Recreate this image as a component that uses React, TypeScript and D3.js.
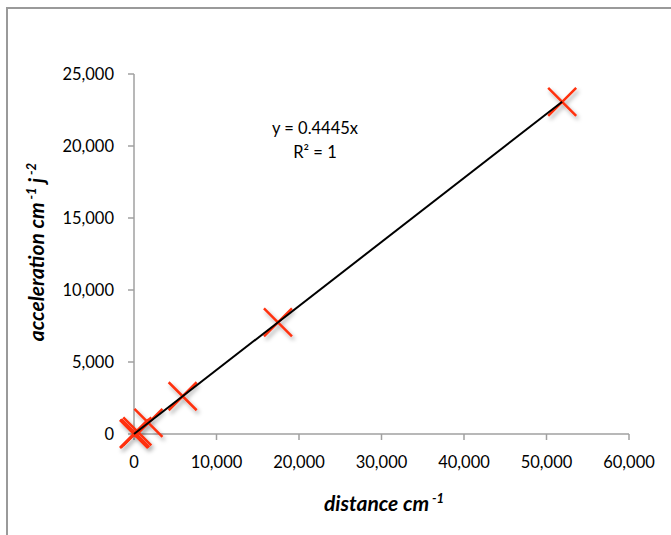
import React from "react";
import * as d3 from "d3";

const distances = [0, 40, 150, 400, 1750, 5900, 17450, 51900];
const accelerations = [0, 18, 67, 178, 778, 2622, 7757, 23070];
const xTicks = [0, 10000, 20000, 30000, 40000, 50000, 60000];
const yTicks = [0, 5000, 10000, 15000, 20000, 25000];
const slope = 0.4445;
const equationLines = ["y = 0.4445x", "R² = 1"];

const W = 671;
const H = 535;
const FONT = "Lato, 'Open Sans', sans-serif";

export default function App() {
  const x = d3.scaleLinear().domain([0, 60000]).range([134, 629]);
  const y = d3.scaleLinear().domain([0, 25000]).range([434, 74]);
  const fmt = d3.format(",");
  const pts = distances.map((d, i) => ({ d, a: accelerations[i] }));
  const maxX = d3.max(distances) as number;
  const line = d3.line<number>().x((v) => x(v)).y((v) => y(v * slope));
  const axisColor = "#a0a0a0";
  const m = 14;

  return (
    <svg
      width={W}
      height={H}
      style={{ position: "absolute", left: 0, top: 0, background: "#fff" }}
    >
      <defs>
        <filter id="sh" x="-50%" y="-50%" width="200%" height="200%">
          <feDropShadow dx="2" dy="3" stdDeviation="2" floodColor="#000" floodOpacity="0.35" />
        </filter>
      </defs>
      <rect x={0} y={0} width={W} height={H} fill="#fff" />
      <path d={`M7,${H} L7,8 L${W},8`} fill="none" stroke="#9a9a9a" strokeWidth={2} />

      <line x1={x(0)} x2={x(0)} y1={y(25000)} y2={y(0)} stroke={axisColor} strokeWidth={1.5} />
      {yTicks.map((t) => (
        <g key={"y" + t}>
          <line x1={x(0) - 6} x2={x(0)} y1={y(t)} y2={y(t)} stroke={axisColor} strokeWidth={1.5} />
          <text
            x={x(0) - 20}
            y={y(t)}
            textAnchor="end"
            dominantBaseline="central"
            fontFamily={FONT}
            fontSize={16.5}
            fill="#000"
          >
            {fmt(t)}
          </text>
        </g>
      ))}

      <line x1={x(0)} x2={x(60000)} y1={y(0)} y2={y(0)} stroke={axisColor} strokeWidth={1.5} />
      {xTicks.map((t) => (
        <g key={"x" + t}>
          <line x1={x(t)} x2={x(t)} y1={y(0)} y2={y(0) + 6} stroke={axisColor} strokeWidth={1.5} />
          <text
            x={x(t)}
            y={y(0) + 34}
            textAnchor="middle"
            fontFamily={FONT}
            fontSize={16.5}
            fill="#000"
          >
            {fmt(t)}
          </text>
        </g>
      ))}

      <g filter="url(#sh)">
        {pts.map((p, i) => (
          <path
            key={"m" + i}
            d={`M${x(p.d) - m},${y(p.a) - m}L${x(p.d) + m},${y(p.a) + m}M${x(p.d) - m},${y(p.a) + m}L${x(p.d) + m},${y(p.a) - m}`}
            stroke="#ff3010"
            strokeWidth={2.5}
            fill="none"
          />
        ))}
      </g>

      <path d={line([0, maxX]) || ""} stroke="#000" strokeWidth={2} fill="none" />

      {equationLines.map((s, i) => (
        <text
          key={"eq" + i}
          x={315}
          y={134 + i * 24}
          textAnchor="middle"
          fontFamily={FONT}
          fontSize={16.5}
          fill="#000"
        >
          {s}
        </text>
      ))}

      <text
        x={384}
        y={511}
        textAnchor="middle"
        fontFamily={FONT}
        fontSize={21}
        fontWeight="bold"
        fontStyle="italic"
        fill="#000"
      >
        distance cm
        <tspan dy={-8} fontSize={13}> -1</tspan>
      </text>

      <text
        transform={`translate(44, ${(y(0) + y(25000)) / 2 - 2}) rotate(-90)`}
        textAnchor="middle"
        fontFamily={FONT}
        fontSize={21}
        fontWeight="bold"
        fontStyle="italic"
        fill="#000"
      >
        acceleration cm
        <tspan dy={-8} fontSize={13}> -1</tspan>
        <tspan dy={8}> j</tspan>
        <tspan dy={-8} fontSize={13}> -2</tspan>
      </text>
    </svg>
  );
}
